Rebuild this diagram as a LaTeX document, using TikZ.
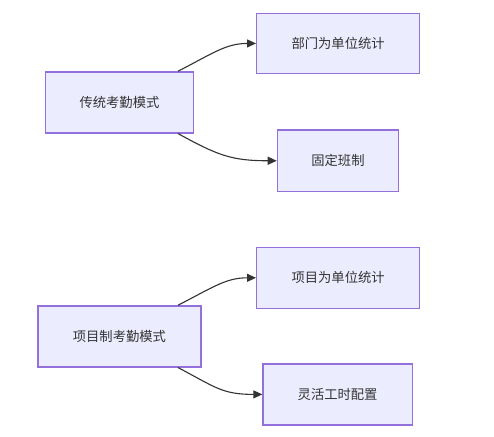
\documentclass[tikz,border=0pt]{standalone}
\usepackage{fontspec}
\setmainfont{Noto Sans CJK SC}
\usetikzlibrary{arrows.meta}
\definecolor{nodefill}{HTML}{ECECFF}
\definecolor{nodeline}{HTML}{9370DB}
\definecolor{txt}{HTML}{333333}
\tikzset{
  box/.style={draw=nodeline, fill=nodefill, line width=1.2pt, text=txt,
    font=\fontsize{13.3}{16}\selectfont, inner sep=0pt, anchor=north west},
  link/.style={draw=txt, line width=1.1pt, -{Stealth[length=9pt,width=8pt,inset=0pt]}}
}
\begin{document}
\begin{tikzpicture}[x=1pt,y=-1pt]
\useasboundingbox (0,0) rectangle (494,436);
\fill[white] (0,0) rectangle (494,436);
\node[box, minimum width=148.3pt, minimum height=61pt] (a) at (44.7,71.3) {传统考勤模式};
\node[box, minimum width=163pt, minimum height=60.3pt] (b) at (256,12.7) {部门为单位统计};
\node[box, minimum width=121.3pt, minimum height=61.7pt] (c) at (276.7,129.3) {固定班制};
\node[box, minimum width=163pt, minimum height=61pt] (d) at (37.3,305.3) {项目制考勤模式};
\node[box, minimum width=163pt, minimum height=61pt] (e) at (256,246.7) {项目为单位统计};
\node[box, minimum width=149.4pt, minimum height=61pt] (f) at (262.3,363.3) {灵活工时配置};
\draw[link] ([xshift=-16.3pt]a.north east) .. controls +(35,-18) and +(-30,0) .. (b.west);
\draw[link] ([xshift=-16.3pt]a.south east) .. controls +(40,22) and +(-45,0) .. (c.west);
\draw[link] ([xshift=-23.6pt]d.north east) .. controls +(35,-18) and +(-30,0) .. (e.west);
\draw[link] ([xshift=-23.6pt]d.south east) .. controls +(38,20) and +(-40,0) .. (f.west);
\end{tikzpicture}
\end{document}
